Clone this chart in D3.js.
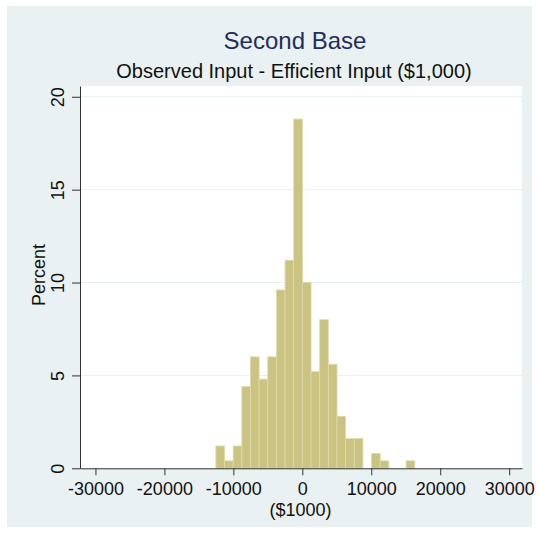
<!DOCTYPE html>
<html>
<head>
<meta charset="utf-8">
<script src="https://cdn.jsdelivr.net/npm/d3@7"></script>
<style>
  html, body { margin: 0; padding: 0; background: #ffffff; }
  svg { display: block; }
  text { font-family: "Liberation Sans", Arial, Helvetica, sans-serif; }
</style>
</head>
<body>
<svg id="chart" width="538" height="535"></svg>
<script>
// ---- data ----
const binStart = -12530;          // left edge of first bin ($1000)
const binWidth = 1254;            // bin width ($1000)
const percents = [1.2, 0.4, 1.2, 4.4, 6.0, 4.8, 6.0, 9.6, 11.2, 18.8, 10.0, 5.2, 8.0, 5.6, 2.8, 1.6, 1.6, 0, 0.8, 0.4, 0, 0, 0.4];
const xTicks = [-30000, -20000, -10000, 0, 10000, 20000, 30000];
const yTicks = [0, 5, 10, 15, 20];
const titleText = "Second Base";
const subtitleText = "Observed Input - Efficient Input ($1,000)";
const xTitle = "($1000)";
const yTitle = "Percent";

// ---- layout ----
const svg = d3.select("#chart");
const plot = { left: 80, right: 522, top: 86, bottom: 468.3 };

svg.append("rect").attr("x", 7).attr("y", 6).attr("width", 525).attr("height", 521)
  .attr("fill", "#e9f1f3");
svg.append("rect").attr("x", plot.left).attr("y", plot.top)
  .attr("width", plot.right - plot.left).attr("height", plot.bottom - plot.top)
  .attr("fill", "#ffffff");

const x = d3.scaleLinear().domain([-32240, 31860]).range([plot.left, plot.right]);
const y = d3.scaleLinear().domain([0, 20.58]).range([plot.bottom, plot.top]);

// gridlines
svg.append("g").selectAll("line").data(yTicks.filter(d => d > 0)).join("line")
  .attr("x1", plot.left).attr("x2", plot.right)
  .attr("y1", d => y(d)).attr("y2", d => y(d))
  .attr("stroke", "#e6eff1").attr("stroke-width", 1);

// bars
const bins = percents.map((p, i) => ({ x0: binStart + i * binWidth, x1: binStart + (i + 1) * binWidth, p }));
svg.append("g").selectAll("rect").data(bins.filter(b => b.p > 0)).join("rect")
  .attr("x", d => x(d.x0)).attr("width", d => x(d.x1) - x(d.x0))
  .attr("y", d => y(d.p)).attr("height", d => y(0) - y(d.p))
  .attr("fill", "#cac381").attr("stroke", "#dedaa9").attr("stroke-width", 0.8);

// x axis
const xAxis = svg.append("g").attr("transform", `translate(0,${plot.bottom})`)
  .call(d3.axisBottom(x).tickValues(xTicks).tickFormat(d => String(d)).tickSize(7).tickPadding(6.5).tickSizeOuter(0));
xAxis.select(".domain").attr("stroke", "#333");
xAxis.selectAll(".tick line").attr("stroke", "#333");
xAxis.selectAll(".tick text").attr("font-size", 18).attr("fill", "#111")
  .style("font-family", '"Liberation Sans", Arial, sans-serif');

// y axis
const yAxis = svg.append("g").attr("transform", `translate(${plot.left},0)`)
  .call(d3.axisLeft(y).tickValues(yTicks).tickSize(8).tickSizeOuter(0));
yAxis.select(".domain").attr("stroke", "#333");
yAxis.selectAll(".tick line").attr("stroke", "#333");
yAxis.selectAll(".tick text")
  .attr("transform", "rotate(-90)").attr("x", 0).attr("y", -16).attr("dy", 0)
  .attr("text-anchor", "middle").attr("font-size", 18).attr("fill", "#111")
  .style("font-family", '"Liberation Sans", Arial, sans-serif');

// titles
svg.append("text").attr("x", 295).attr("y", 49).attr("text-anchor", "middle")
  .attr("font-size", 24).attr("fill", "#1e2e5c").text(titleText);
svg.append("text").attr("x", 294).attr("y", 78).attr("text-anchor", "middle")
  .attr("font-size", 20).attr("fill", "#111").text(subtitleText);
svg.append("text").attr("x", 300.5).attr("y", 516).attr("text-anchor", "middle")
  .attr("font-size", 18).attr("fill", "#111").text(xTitle);
svg.append("text").attr("transform", "translate(45,275) rotate(-90)").attr("text-anchor", "middle")
  .attr("font-size", 18).attr("fill", "#111").text(yTitle);
</script>
</body>
</html>
